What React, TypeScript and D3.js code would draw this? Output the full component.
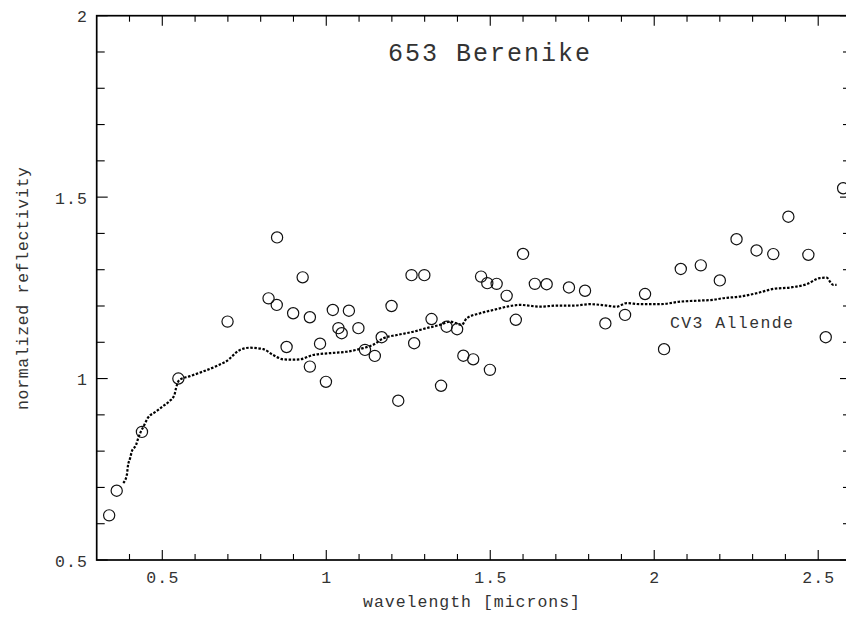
import React from "react";
import * as d3 from "d3";

// Asteroid 653 Berenike reflectance (circles)
const asteroidWavelength = [
  0.338, 0.361, 0.438, 0.549, 0.699, 0.824, 0.85, 0.849, 0.899, 0.879,
  0.928, 0.95, 0.95, 0.981, 0.999, 1.02, 1.037, 1.047, 1.069, 1.098,
  1.118, 1.148, 1.169, 1.199, 1.2195, 1.26, 1.268, 1.299, 1.321, 1.35,
  1.367, 1.399, 1.418, 1.448, 1.472, 1.491, 1.499, 1.5195, 1.55, 1.578,
  1.6, 1.636, 1.672, 1.74, 1.789, 1.851, 1.911, 1.972, 2.03, 2.081,
  2.142, 2.2, 2.251, 2.312, 2.363, 2.409, 2.47, 2.523, 2.576,
];
const asteroidReflectance = [
  0.623, 0.691, 0.853, 1.0, 1.157, 1.221, 1.389, 1.203, 1.18, 1.087,
  1.279, 1.169, 1.033, 1.096, 0.991, 1.189, 1.139, 1.125, 1.187, 1.139,
  1.079, 1.0625, 1.114, 1.2, 0.939, 1.285, 1.0975, 1.285, 1.164, 0.98,
  1.143, 1.136, 1.063, 1.053, 1.281, 1.263, 1.024, 1.261, 1.228, 1.162,
  1.3435, 1.261, 1.26, 1.251, 1.242, 1.152, 1.1755, 1.233, 1.081, 1.302,
  1.312, 1.2705, 1.384, 1.353, 1.343, 1.446, 1.341, 1.114, 1.5245,
];

// CV3 Allende meteorite spectrum (dotted curve)
const meteoriteWavelength = [
  0.381, 0.392, 0.395, 0.402, 0.407, 0.42, 0.427, 0.445, 0.4555, 0.481,
  0.501, 0.521, 0.537, 0.542, 0.552, 0.582, 0.623, 0.674, 0.694, 0.737,
  0.767, 0.808, 0.838, 0.869, 0.899, 0.92, 0.96, 1.011, 1.062, 1.113,
  1.143, 1.174, 1.215, 1.265, 1.306, 1.347, 1.377, 1.395, 1.413, 1.428,
  1.469, 1.509, 1.55, 1.591, 1.652, 1.702, 1.753, 1.804, 1.855, 1.885,
  1.916, 1.957, 2.018, 2.079, 2.14, 2.18, 2.206, 2.261, 2.312, 2.363,
  2.414, 2.465, 2.505, 2.526, 2.536, 2.546, 2.556,
];
const meteoriteReflectance = [
  0.712, 0.735, 0.758, 0.781, 0.799, 0.817, 0.837, 0.872, 0.891, 0.909,
  0.923, 0.937, 0.955, 0.974, 0.996, 1.006, 1.019, 1.038, 1.047, 1.079,
  1.085, 1.081, 1.065, 1.053, 1.052, 1.053, 1.065, 1.07, 1.074, 1.084,
  1.093, 1.111, 1.12, 1.129, 1.139, 1.148, 1.157, 1.153, 1.148, 1.166,
  1.18, 1.189, 1.198, 1.203, 1.198, 1.201, 1.201, 1.205, 1.201, 1.198,
  1.208, 1.205, 1.205, 1.212, 1.215, 1.217, 1.221, 1.226, 1.235, 1.247,
  1.251, 1.26, 1.277, 1.278, 1.267, 1.258, 1.258,
];

const xMajorTicks = [0.5, 1, 1.5, 2, 2.5];
const xTickLabels = ["0.5", "1", "1.5", "2", "2.5"];
const yMajorTicks = [0.5, 1, 1.5, 2];
const yTickLabels = ["0.5", "1", "1.5", "2"];

const title = "653 Berenike";
const xLabel = "wavelength [microns]";
const yLabel = "normalized reflectivity";
const curveLabel = "CV3 Allende";

const W = 846;
const H = 619;
const left = 96.7;
const right = 851;
const top = 15.7;
const bottom = 560;
const FONT = "'Liberation Mono', 'DejaVu Sans Mono', monospace";
const INK = "#333";

export default function App() {
  const x = d3.scaleLinear().domain([0.3, 2.6]).range([left, right]);
  const y = d3.scaleLinear().domain([0.5, 2]).range([bottom, top]);

  const xMinor = d3.range(4, 26).map((v) => v / 10).filter((v) => !xMajorTicks.some((m) => Math.abs(m - v) < 1e-6));
  const yMinor = d3.range(6, 20).map((v) => v / 10).filter((v) => !yMajorTicks.some((m) => Math.abs(m - v) < 1e-6));

  const curve = meteoriteWavelength.map((w, i) => [w, meteoriteReflectance[i]] as [number, number]);
  const lineGen = d3
    .line<[number, number]>()
    .x((d) => x(d[0]))
    .y((d) => y(d[1]))
    .curve(d3.curveMonotoneX);

  const charW = 10.7;
  const fit = (s: string, cw: number) => (s.length > 1 ? s.length * cw : undefined);

  return (
    <svg
      width={W}
      height={H}
      style={{ position: "absolute", left: 0, top: 0, background: "#fff" }}
    >
      <rect x={0} y={0} width={W} height={H} fill="#fff" />
      {/* frame */}
      <rect x={left} y={top} width={right - left} height={bottom - top} fill="none" stroke="#000" strokeWidth={1.7} />

      {/* x ticks (bottom & top) */}
      {xMajorTicks.map((t) => (
        <g key={"xM" + t}>
          <line x1={x(t)} x2={x(t)} y1={bottom} y2={bottom - 10} stroke="#000" strokeWidth={1.1} />
          <line x1={x(t)} x2={x(t)} y1={top} y2={top + 10} stroke="#000" strokeWidth={1.1} />
        </g>
      ))}
      {xMinor.map((t) => (
        <g key={"xm" + t}>
          <line x1={x(t)} x2={x(t)} y1={bottom} y2={bottom - 6} stroke="#000" strokeWidth={1.1} />
          <line x1={x(t)} x2={x(t)} y1={top} y2={top + 6} stroke="#000" strokeWidth={1.1} />
        </g>
      ))}
      {/* y ticks (left & right) */}
      {yMajorTicks.map((t) => (
        <g key={"yM" + t}>
          <line x1={left} x2={left + 11} y1={y(t)} y2={y(t)} stroke="#000" strokeWidth={1.1} />
          <line x1={right} x2={right - 11} y1={y(t)} y2={y(t)} stroke="#000" strokeWidth={1.1} />
        </g>
      ))}
      {yMinor.map((t) => (
        <g key={"ym" + t}>
          <line x1={left} x2={left + 8} y1={y(t)} y2={y(t)} stroke="#000" strokeWidth={1.1} />
          <line x1={right} x2={right - 8} y1={y(t)} y2={y(t)} stroke="#000" strokeWidth={1.1} />
        </g>
      ))}

      {/* tick labels */}
      {xMajorTicks.map((t, i) => (
        <text
          key={"xl" + t}
          x={x(t)}
          y={583}
          textAnchor="middle"
          fontFamily={FONT}
          fontSize={16.5}
          fill={INK}
          textLength={fit(xTickLabels[i], charW)}
          lengthAdjust="spacing"
        >
          {xTickLabels[i]}
        </text>
      ))}
      {yMajorTicks.map((t, i) => (
        <text
          key={"yl" + t}
          x={87}
          y={y(t) + 6.5}
          textAnchor="end"
          fontFamily={FONT}
          fontSize={16.5}
          fill={INK}
          textLength={fit(yTickLabels[i], charW)}
          lengthAdjust="spacing"
        >
          {yTickLabels[i]}
        </text>
      ))}

      {/* axis labels */}
      <text x={363} y={607} fontFamily={FONT} fontSize={16.5} fill={INK} textLength={217} lengthAdjust="spacing">
        {xLabel}
      </text>
      <text
        transform={`translate(28,410) rotate(-90)`}
        fontFamily={FONT}
        fontSize={16.5}
        fill={INK}
        textLength={243}
        lengthAdjust="spacing"
      >
        {yLabel}
      </text>

      {/* title */}
      <text x={388} y={61} fontFamily={FONT} fontSize={25} fill={INK} textLength={202} lengthAdjust="spacing">
        {title}
      </text>

      {/* meteorite curve */}
      <path
        d={lineGen(curve) || ""}
        fill="none"
        stroke="#000"
        strokeWidth={2.2}
        strokeDasharray="2.5 1.6"
      />
      <text x={670} y={328} fontFamily={FONT} fontSize={16.5} fill={INK} textLength={123} lengthAdjust="spacing">
        {curveLabel}
      </text>

      {/* asteroid points */}
      {asteroidWavelength.map((w, i) => (
        <circle
          key={"c" + i}
          cx={x(w)}
          cy={y(asteroidReflectance[i])}
          r={5.6}
          fill="none"
          stroke="#111"
          strokeWidth={1.2}
        />
      ))}
    </svg>
  );
}
